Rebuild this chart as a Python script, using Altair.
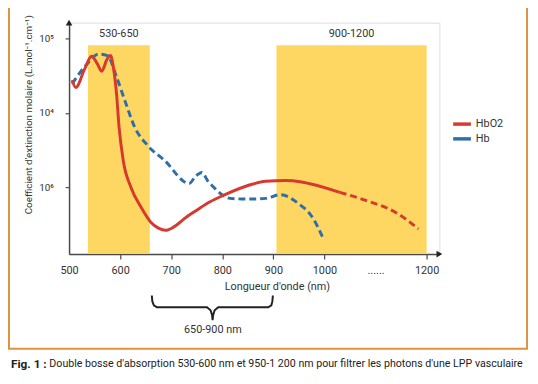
import altair as alt
import pandas as pd

# ---------------- data ----------------
hbo2_nm = [506, 513, 530, 544, 555, 564, 574, 581, 587, 593, 598, 606, 621, 641, 660, 675, 689, 706, 730, 750, 775, 802, 853, 885, 924, 955, 982, 1030]
hbo2_val = [27500, 21900, 38000, 57500, 46000, 36300, 52000, 58900, 40000, 17800, 6300, 2290, 1000, 537, 339, 282, 263, 295, 398, 490, 631, 776, 1070, 1200, 1230, 1175, 1070, 850]
hbo2_ext_nm = [1030, 1078, 1142, 1184]
hbo2_ext_val = [850, 676, 447, 275]

hb_nm = [506, 533, 558, 575, 593, 610, 629, 654, 687, 735, 748, 760, 772, 783, 815, 853, 885, 914, 949, 976, 999]
hb_val = [24500, 43600, 61700, 58900, 30200, 14100, 6300, 3630, 2290, 1120, 1410, 1580, 1200, 1000, 708, 692, 708, 794, 603, 398, 195]

band_start = [537, 906]
band_end = [658, 1200]
band_labels = ["530-650", "900-1200"]
band_top = 80800

x_ticks = [500, 600, 700, 800, 900, 1000, 1100, 1200]
y_ticks = [1000, 10000, 100000]

legend_names = ["HbO2", "Hb"]
legend_colors = ["#d63a2f", "#2f6fa8"]

brace_x = [662, 663, 666, 672, 770, 777, 780, 781, 782, 785, 792, 890, 896, 898, 899]
brace_y = [-42, -48, -52, -54, -54, -57, -62, -67, -62, -57, -54, -54, -52, -48, -42]

RED = "#d63a2f"
BLUE = "#2f6fa8"
YELLOW = "#fdd55a"
AX = "#4a4a4a"
FONT = "Roboto"

W, H = 376, 235

x_scale = alt.Scale(domain=[500, 1225], nice=False, zero=False)
y_scale = alt.Scale(type="log", domain=[126, 163000], nice=False)

one = pd.DataFrame({"a": [0]})

bands = pd.DataFrame({"x": band_start, "x2": band_end, "label": band_labels,
                      "y": [band_top] * 2, "y2": [126] * 2})

x_axis = alt.Axis(
    values=x_ticks, format="d",
    labelExpr="datum.value == 1100 ? '......' : datum.label",
    tickColor={"condition": {"test": "datum.value == 1100 || datum.value == 500", "value": "transparent"}, "value": AX},
    domainColor=AX, domainWidth=1.5, tickSize=5, tickWidth=1.2,
    labelFont=FONT, labelFontSize=11, labelColor="#333", labelPadding=6, labelFlush=False,
    title="Longueur d'onde (nm)", titleFont=FONT, titleFontSize=11, titleFontWeight="normal",
    titleColor="#333", titleX=211, titleY=33, titleBaseline="middle", titleAlign="center",
    grid=False,
)
y_axis = alt.Axis(
    values=y_ticks,
    labelExpr="datum.value == 100000 ? '10⁵' : (datum.value == 10000 ? '10⁴' : '10⁶')",
    domainColor=AX, domainWidth=1.5, tickColor=AX, tickSize=4, tickWidth=1.2,
    labelFont=FONT, labelFontSize=10, labelColor="#333", labelPadding=12, labelFlush=False,
    title="Coefficient d'extinction molaire (L.mol⁻¹.cm⁻¹)", titleFont=FONT, titleFontSize=10,
    titleFontWeight="normal", titleColor="#333", titleX=-41, titleY=93, titleAngle=-90,
    titleBaseline="middle", titleAlign="center",
    grid=False,
)

band_layer = alt.Chart(bands).mark_rect(color=YELLOW, opacity=0.95).encode(
    x=alt.X("x:Q", scale=x_scale, axis=x_axis),
    x2="x2:Q",
    y=alt.Y("y:Q", scale=y_scale, axis=y_axis),
    y2="y2:Q",
)

band_text = alt.Chart(bands).transform_calculate(
    xc="(datum.x + datum.x2) / 2"
).mark_text(font=FONT, fontSize=11, color="#333", baseline="middle").encode(
    x=alt.X("xc:Q", scale=x_scale),
    y=alt.value(12),
    text="label:N",
)

hbo2_df = pd.DataFrame({"x": hbo2_nm, "y": hbo2_val})
hbo2_ext_df = pd.DataFrame({"x": hbo2_ext_nm, "y": hbo2_ext_val})
hb_df = pd.DataFrame({"x": hb_nm, "y": hb_val})

hb_layer = alt.Chart(hb_df).mark_line(color=BLUE, strokeWidth=3, strokeDash=[7, 4], interpolate="monotone").encode(
    x=alt.X("x:Q", scale=x_scale), y=alt.Y("y:Q", scale=y_scale))
hbo2_layer = alt.Chart(hbo2_df).mark_line(color=RED, strokeWidth=3, interpolate="monotone").encode(
    x=alt.X("x:Q", scale=x_scale), y=alt.Y("y:Q", scale=y_scale))
hbo2_ext_layer = alt.Chart(hbo2_ext_df).mark_line(color=RED, strokeWidth=3, strokeDash=[7, 4], interpolate="monotone").encode(
    x=alt.X("x:Q", scale=x_scale), y=alt.Y("y:Q", scale=y_scale))

# axis arrowheads
arrow_up = alt.Chart(one).mark_point(shape="triangle-up", filled=True, color="#222", size=45, opacity=1).encode(
    x=alt.value(0), y=alt.value(0))
arrow_right = alt.Chart(one).mark_point(shape="triangle-right", filled=True, color="#222", size=45, opacity=1).encode(
    x=alt.value(W), y=alt.value(H))

# legend
leg_layers = []
for i, (nm, col) in enumerate(zip(legend_names, legend_colors)):
    yy = 103 + 15 * i
    leg_layers.append(alt.Chart(one).mark_rule(color=col, strokeWidth=3.5).encode(
        x=alt.value(390), x2=alt.value(408), y=alt.value(yy)))
    leg_layers.append(alt.Chart(one).mark_text(align="left", baseline="middle", font=FONT, fontSize=11, color="#333").encode(
        x=alt.value(413), y=alt.value(yy), text=alt.value(nm)))

# brace
brace_df = pd.DataFrame({"x": brace_x, "y": brace_y, "i": list(range(len(brace_x)))})
brace_layer = alt.Chart(brace_df).mark_line(color="#222", strokeWidth=2, interpolate="linear").encode(
    x=alt.X("x:Q", scale=x_scale),
    y=alt.Y("y:Q", scale=alt.Scale(domain=[0, H], nice=False, zero=False), axis=None),
    order="i:Q",
)
brace_text = alt.Chart(one).mark_text(font=FONT, fontSize=11, color="#333", baseline="middle").encode(
    x=alt.value(146), y=alt.value(312), text=alt.value("650-900 nm"))

# frame and caption
frame = alt.Chart(one).mark_rect(fill=None, stroke="#e0913f", strokeWidth=2).encode(
    x=alt.value(-61), x2=alt.value(465), y=alt.value(-25), y2=alt.value(331))
cap_bold = alt.Chart(one).mark_text(align="left", baseline="middle", font=FONT, fontSize=12, fontWeight="bold", color="#222").encode(
    x=alt.value(-59), y=alt.value(347), text=alt.value("Fig. 1 :"))
cap_text = alt.Chart(one).mark_text(align="left", baseline="middle", font=FONT, fontSize=10.8, color="#222").encode(
    x=alt.value(-20), y=alt.value(347),
    text=alt.value("Double bosse d'absorption 530-600 nm et 950-1 200 nm pour filtrer les photons d'une LPP vasculaire"))

main = alt.layer(band_layer, band_text, hb_layer, hbo2_layer, hbo2_ext_layer, arrow_up, arrow_right,
                 frame, cap_bold, cap_text, brace_text, *leg_layers)

chart = alt.layer(main, brace_layer).resolve_scale(y="independent").properties(
    width=W, height=H,
    autosize=alt.AutoSizeParams(type="none"),
    padding={"left": 62, "top": 12, "right": 92, "bottom": 129},
).configure_view(stroke=None).configure(background="white")

chart.save("out.html", embed_options={"renderer": "svg", "actions": False})
